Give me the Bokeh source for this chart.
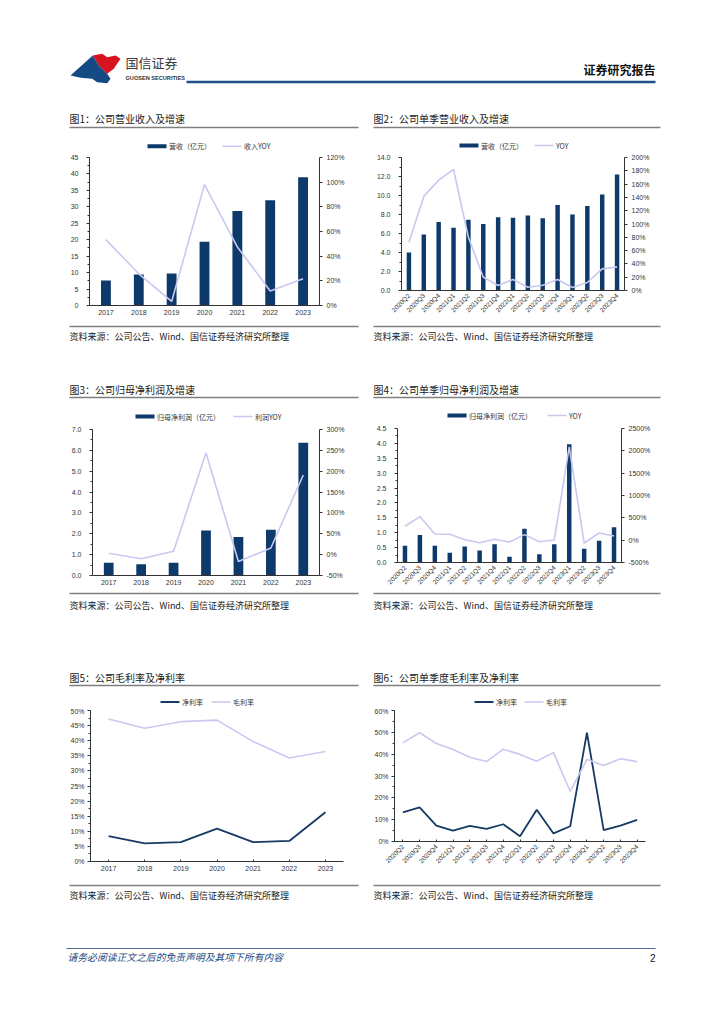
import math
from bokeh.plotting import figure
from bokeh.models import (Range1d, FactorRange, LinearAxis, FixedTicker, PrintfTickFormatter,
                          NumeralTickFormatter)
from bokeh.layouts import column, row
from bokeh.core.properties import value
from bokeh.embed import file_html
from bokeh.resources import INLINE

CJK = "Noto Sans CJK SC"
NUM = "Liberation Sans"
NAVY = "#0D3A6B"
LAV = "#C8C8F0"
NAVY_LINE = "#153A63"
RULE = "#7f7f7f"

# ---------------- data ----------------
years = ["2017", "2018", "2019", "2020", "2021", "2022", "2023"]
quarters = ["2020Q2", "2020Q3", "2020Q4", "2021Q1", "2021Q2", "2021Q3", "2021Q4",
            "2022Q1", "2022Q2", "2022Q3", "2022Q4", "2023Q1", "2023Q2", "2023Q3", "2023Q4"]

rev_annual = [7.6, 9.4, 9.7, 19.4, 28.7, 32.0, 39.0]
rev_annual_yoy = [53.4, 25.7, 3.3, 98.0, 47.5, 11.8, 21.7]
rev_q = [4.0, 5.9, 7.2, 6.6, 7.45, 7.0, 7.7, 7.65, 7.9, 7.6, 9.0, 8.0, 8.9, 10.1, 12.2]
rev_q_yoy = [72.5, 141.5, 166, 182, 80, 20, 7.5, 16.5, 5, 8, 16.5, 4.5, 12, 32.5, 35.5]
np_annual = [0.61, 0.54, 0.61, 2.16, 1.84, 2.19, 6.36]
np_annual_yoy = [3.4, -10, 8, 244, -16.5, 16, 191]
np_q = [0.56, 0.92, 0.56, 0.33, 0.54, 0.40, 0.61, 0.19, 1.13, 0.28, 0.61, 3.97, 0.46, 0.73, 1.18]
np_q_yoy = [311, 528, 139, 131, 11, -56, 19, -41, 124, -34, 4, 2087, -64, 161, 94]
net_margin_a = [8.4, 6.0, 6.4, 10.9, 6.4, 6.8, 16.3]
gross_margin_a = [47.2, 44.1, 46.3, 46.8, 39.7, 34.3, 36.4]
net_margin_q = [13.3, 15.6, 7.3, 5.0, 7.2, 5.8, 7.9, 2.4, 14.5, 3.7, 7.0, 49.8, 5.2, 7.3, 9.9]
gross_margin_q = [45.2, 49.8, 44.9, 42.1, 38.6, 36.6, 42.3, 39.9, 36.8, 40.7, 22.9, 37.6, 34.8, 37.9, 36.6]

ticks1_l = [0, 5, 10, 15, 20, 25, 30, 35, 40, 45]
ticks1_r = [0, 20, 40, 60, 80, 100, 120]
ticks2_l = [0, 2, 4, 6, 8, 10, 12, 14]
ticks2_r = [0, 20, 40, 60, 80, 100, 120, 140, 160, 180, 200]
ticks3_l = [0, 1, 2, 3, 4, 5, 6, 7]
ticks3_r = [-50, 0, 50, 100, 150, 200, 250, 300]
ticks4_l = [0, 0.5, 1, 1.5, 2, 2.5, 3, 3.5, 4, 4.5]
ticks4_r = [-500, 0, 500, 1000, 1500, 2000, 2500]
ticks5 = [0, 5, 10, 15, 20, 25, 30, 35, 40, 45, 50]
ticks6 = [0, 10, 20, 30, 40, 50, 60]

titles = ["图1：公司营业收入及增速", "图2：公司单季营业收入及增速",
          "图3：公司归母净利润及增速", "图4：公司单季归母净利润及增速",
          "图5：公司毛利率及净利率", "图6：公司单季度毛利率及净利率"]
source = "资料来源：公司公告、Wind、国信证券经济研究所整理"

LX, LX2, RX, RX2 = 69, 358, 373, 660
PAGE_W = 716


# ---------------- helpers ----------------
def strip(top, bottom):
    f = figure(width=PAGE_W, height=bottom - top, x_range=Range1d(0, PAGE_W),
               y_range=Range1d(bottom, top), output_backend="svg", toolbar_location=None,
               min_border=0, x_axis_location=None, y_axis_location=None,
               outline_line_color=None, background_fill_color="white",
               border_fill_color="white")
    f.grid.visible = False
    return f


def txt(f, x, y, s, size="10px", color="#1a1a1a", align="left", style="normal", font=CJK):
    f.text(x=[x], y=[y], text=[s], text_font=value(font), text_font_size=size,
           text_color=color, text_align=align, text_baseline="middle", text_font_style=style)


def rule(f, y, x0=None, x1=None, color=RULE, w=1.5):
    if x0 is None:
        f.segment(x0=[LX, RX], y0=[y, y], x1=[LX2, RX2], y1=[y, y], line_color=color, line_width=w)
    else:
        f.segment(x0=[x0], y0=[y], x1=[x1], y1=[y], line_color=color, line_width=w)


def legend_item(f, x0, y, label, kind, color):
    """kind: 'bar' (thick swatch) or 'line' (thin swatch); drawn in page pixels."""
    w = 4 if kind == "bar" else (1.8 if color != LAV else 1.6)
    f.segment(x0=[x0], y0=[y], x1=[x0 + 19], y1=[y], line_color=color, line_width=w,
              line_cap="butt")
    txt(f, x0 + 21.5, y, label, size="7px", color="#333333")


def style_axis(ax, standoff, cat=False, size="7px"):
    ax.axis_line_color = "#333333"
    ax.axis_line_width = 1
    ax.major_tick_line_color = "#333333"
    ax.minor_tick_line_color = "#333333"
    ax.major_label_text_font = NUM
    ax.major_label_text_font_size = size
    ax.major_label_text_color = "#333333"
    ax.major_label_standoff = standoff
    if cat:
        ax.major_tick_in = 2
        ax.major_tick_out = 0
    else:
        ax.major_tick_in = 0
        ax.major_tick_out = 3
        ax.minor_tick_in = 0
        ax.minor_tick_out = 2


def chart(width, height, cats, yl, ticks_l, fmt_l, mb, lstand, rotate=False, yr=None, ticks_r=None):
    l, r, t, b = mb
    p = figure(width=width, height=height, x_range=FactorRange(factors=cats),
               y_range=Range1d(*yl), output_backend="svg", toolbar_location=None,
               min_border_left=l, min_border_right=r, min_border_top=t, min_border_bottom=b,
               outline_line_color=None, background_fill_color="white", border_fill_color="white")
    p.grid.visible = False
    step = ticks_l[1] - ticks_l[0]
    p.yaxis.ticker = FixedTicker(ticks=ticks_l,
                                 minor_ticks=[v + step / 2 for v in ticks_l[:-1]])
    p.yaxis.formatter = fmt_l
    style_axis(p.yaxis[0], lstand)
    style_axis(p.xaxis[0], 4, cat=True, size="6.5px" if rotate else "7px")
    if rotate:
        p.xaxis.major_label_orientation = math.pi / 4
    if yr is not None:
        p.extra_y_ranges = {"y2": Range1d(*yr)}
        ax = LinearAxis(y_range_name="y2", ticker=FixedTicker(ticks=ticks_r),
                        formatter=PrintfTickFormatter(format="%d%%"))
        style_axis(ax, 4)
        p.add_layout(ax, "right")
    return p


def bar_line(p, cats, bars, yoy):
    p.vbar(x=cats, top=bars, width=0.3, fill_color=NAVY, line_color=None)
    p.line(x=cats, y=yoy, y_range_name="y2", line_color=LAV, line_width=1.6)


def two_lines(p, cats, net, gross):
    p.line(x=cats, y=net, line_color=NAVY_LINE, line_width=1.8)
    p.line(x=cats, y=gross, line_color=LAV, line_width=1.6)


fmt1 = NumeralTickFormatter(format="0")
fmt_dec = NumeralTickFormatter(format="0.0")
fmt_pct = PrintfTickFormatter(format="%d%%")

# ---------------- strip A: header + row1 titles + row1 legends ----------------
sA = strip(0, 153)
sA.patch(x=[92.3, 101.7, 106.7, 115, 120, 113.3, 106.7, 98.3],
         y=[55, 53.3, 56.7, 55, 58.3, 68.3, 73.3, 65], fill_color="#D7141E", line_color=None)
sA.patch(x=[70, 92.3, 98.3, 106.7, 110, 106.7, 96.7, 91.7, 80],
         y=[75, 55, 65, 73.3, 78.3, 82.7, 81.7, 78.3, 77.3], fill_color="#164A84", line_color=None)
txt(sA, 125, 62, "国信证券", size="13px", color="#3a3a3a")
txt(sA, 125, 77.5, "GUOSEN SECURITIES", size="5.6px", color="#333333", style="bold", font=NUM)
rule(sA, 81.5, 186, 655, color="#1F4F8C", w=2.5)
txt(sA, 655, 68.5, "证券研究报告", size="12px", color="#111111", align="right", style="bold")
txt(sA, LX, 118, titles[0])
txt(sA, RX, 118, titles[1])
rule(sA, 127)
legend_item(sA, 147, 145.7, "营收（亿元）", "bar", NAVY)
legend_item(sA, 222, 145.7, "收入YOY", "line", LAV)
legend_item(sA, 459, 145, "营收（亿元）", "bar", NAVY)
legend_item(sA, 534, 145, "YOY", "line", LAV)

# ---------------- row 1 ----------------
c1 = chart(364, 169, years, (0, 45), ticks1_l, fmt1, (89, 45, 4, 17), 8,
           yr=(0, 120), ticks_r=ticks1_r)
bar_line(c1, years, rev_annual, rev_annual_yoy)

c2 = chart(352, 169, quarters, (0, 14), ticks2_l, fmt_dec, (37, 92, 4, 32), 8, rotate=True,
           yr=(0, 200), ticks_r=ticks2_r)
bar_line(c2, quarters, rev_q, rev_q_yoy)

# ---------------- strip B ----------------
sB = strip(322, 424)
rule(sB, 326)
txt(sB, LX, 336, source, size="9px")
txt(sB, RX, 336, source, size="9px")
txt(sB, LX, 389, titles[2])
txt(sB, RX, 389, titles[3])
rule(sB, 397)
legend_item(sB, 135, 416, "归母净利润（亿元）", "bar", NAVY)
legend_item(sB, 233, 416, "利润YOY", "line", LAV)
legend_item(sB, 447, 415, "归母净利润（亿元）", "bar", NAVY)
legend_item(sB, 547, 415, "YOY", "line", LAV)

# ---------------- row 2 ----------------
c3 = chart(364, 166, years, (0, 7), ticks3_l, fmt_dec, (92, 45, 5, 15), 8,
           yr=(-50, 300), ticks_r=ticks3_r)
bar_line(c3, years, np_annual, np_annual_yoy)

c4 = chart(352, 166, quarters, (0, 4.5), ticks4_l, fmt_dec, (33, 95, 4, 28), 8, rotate=True,
           yr=(-500, 2500), ticks_r=ticks4_r)
bar_line(c4, quarters, np_q, np_q_yoy)

# ---------------- strip C ----------------
sC = strip(590, 707)
rule(sC, 593)
txt(sC, LX, 605, source, size="9px")
txt(sC, RX, 605, source, size="9px")
txt(sC, LX, 677, titles[4])
txt(sC, RX, 677, titles[5])
rule(sC, 685)
legend_item(sC, 160, 701.5, "净利率", "line", NAVY_LINE)
legend_item(sC, 211, 701.5, "毛利率", "line", LAV)
legend_item(sC, 474, 701.5, "净利率", "line", NAVY_LINE)
legend_item(sC, 524, 701.5, "毛利率", "line", LAV)

# ---------------- row 3 ----------------
c5 = chart(364, 173, years, (0, 50), ticks5, fmt_pct, (90, 21, 3, 19), 3)
two_lines(c5, years, net_margin_a, gross_margin_a)

c6 = chart(352, 173, quarters, (0, 60), ticks6, fmt_pct, (30, 71, 3, 39), 3, rotate=True)
two_lines(c6, quarters, net_margin_q, gross_margin_q)

# ---------------- strip D ----------------
sD = strip(880, 1000)
rule(sD, 885)
txt(sD, LX, 895, source, size="9px")
txt(sD, RX, 895, source, size="9px")
rule(sD, 948, 66, 655, color="#4A6A9A", w=1)
txt(sD, 67, 956.5, "请务必阅读正文之后的免责声明及其项下所有内容", size="9.8px",
    color="#25497F", style="italic")
txt(sD, 655, 957, "2", size="10px", color="#111111", align="right", font=NUM)

page = column(sA,
              row(column(c1), column(c2)),
              sB,
              row(column(c3), column(c4)),
              sC,
              row(column(c5), column(c6)),
              sD)

open("out.html", "w").write(file_html(page, INLINE))
